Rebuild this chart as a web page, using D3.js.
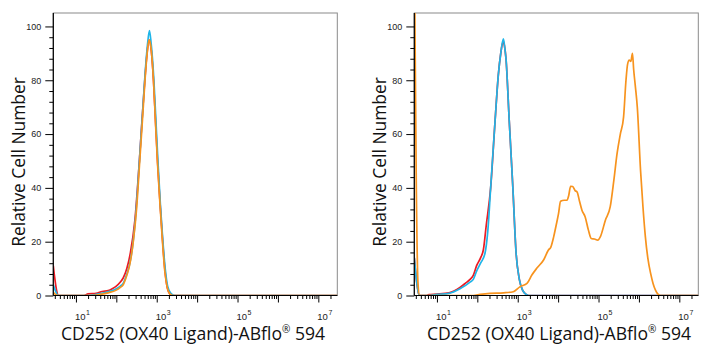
<!DOCTYPE html>
<html><head><meta charset="utf-8">
<script src="https://cdn.jsdelivr.net/npm/d3@7"></script>
<style>body{margin:0;background:#fff}svg{display:block}</style>
</head><body><svg id="c" width="713" height="350"></svg>
<script>
// ---- data (x given as log10 of intensity, y as relative cell number) ----
const leftRedLog = [0.44,0.48,0.52,0.56,1.2,1.3,1.5,1.65,1.8,1.9,2.0,2.1,2.17,2.26,2.35,2.46,2.57,2.64,2.7,2.76,2.81,2.85,2.92,2.97,3.02,3.08,3.12,3.2,3.26,3.33,3.4,7.47];
const leftRedY   = [11,6,2,0,0,0.6,0.8,1.5,1.8,2.5,3.5,5,6.5,10,16,28,50,66,79,90,95,93,80,65,50,35,26,10,3,0.5,0,0];
const leftCyanLog = [0.44,0.5,0.56,1.3,1.5,1.7,1.9,2.0,2.1,2.17,2.25,2.32,2.4,2.47,2.58,2.65,2.71,2.77,2.82,2.86,2.93,2.98,3.03,3.09,3.13,3.21,3.27,3.35,3.45,7.47];
const leftCyanY   = [4,1.5,0,0,0.4,1,1.8,2.5,3.5,4.5,7.5,11,18,28,52,68,82,93,98.5,94,80,65,50,34,25,10,3.5,0.8,0,0];
const leftOrangeLog = [0.44,0.5,0.56,1.4,1.6,1.8,2.0,2.1,2.17,2.26,2.34,2.42,2.5,2.58,2.65,2.71,2.77,2.81,2.85,2.92,2.97,3.02,3.08,3.12,3.2,3.26,3.33,3.4,7.47];
const leftOrangeY   = [1.2,0.3,0,0,0.4,1,2,3,4,7.5,12,20,32,50,66,80,91,95,93,80,64,49,34,25,9,3,0.5,0,0];

const rightRedLog = [0.44,0.5,0.56,0.75,0.8,1.0,1.3,1.57,1.7,1.82,1.9,1.98,2.08,2.15,2.22,2.33,2.44,2.52,2.58,2.64,2.67,2.71,2.79,2.88,2.96,3.04,3.12,3.2,3.27,7.47];
const rightRedY   = [14,5,0,0,0.3,0.5,1,3,4.5,6,7.5,11,14,17,26,40,65,82,90,94.5,93,88,65,40,15.7,6,2,0.5,0,0];
const rightCyanLog = [0.44,0.5,0.56,0.8,1.0,1.3,1.57,1.82,1.9,1.98,2.08,2.19,2.26,2.33,2.44,2.52,2.58,2.645,2.68,2.71,2.79,2.88,2.96,3.04,3.12,3.2,3.27,7.47];
const rightCyanY   = [14,5,0,0,0.4,0.8,2.5,5,6,9,12,15.7,24,40,65,82,90,95.4,92,88,65,40,15.7,6,2,0.5,0,0];
const rightOrangeLog = [0.44,0.49,0.53,0.57,1.9,2.07,2.31,2.65,2.89,3.06,3.23,3.35,3.47,3.64,3.76,3.82,3.89,3.95,4.01,4.06,4.15,4.22,4.26,4.31,4.36,4.42,4.47,4.53,4.59,4.67,4.75,4.82,4.9,4.98,5.05,5.17,5.29,5.38,5.46,5.54,5.62,5.68,5.72,5.76,5.8,5.84,5.87,5.91,5.96,6.04,6.1,6.16,6.22,6.29,6.35,6.41,6.47,6.53,7.47];
const rightOrangeY   = [130,40,5,0,0,0.4,0.8,1,1.4,3.3,4.5,7.6,10.1,13.2,16.9,18,21.8,26,30.4,35,35.4,35.4,37,40.6,40.5,39,38.5,35,31.7,29.2,24.3,21.2,21,20.6,22,28,33,42.9,52.8,60,66.3,80,86,87.5,87,90,84,78,70,46.6,33,21.8,14,8.2,4.5,2,0.5,0,0];

const yTickValues = [0,20,40,60,80,100];
const xLabelExponents = [1,3,5,7];
const xDomainLog = [0.44, 7.47];
const yDomain = [0, 105];
const xTitleMain = "CD252 (OX40 Ligand)-ABflo";
const xTitleMark = "\u00AE";
const xTitleTail = " 594";
const yTitle = "Relative Cell Number";
const seriesColors = {red:"#ec1c24", cyan:"#1fb5e8", orange:"#f7931e"};

// ---- layout ----
const plotW = 284, plotH = 282.5, plotTop = 13;
const panels = [
  {left:53.3, titleX:193, series:[
    {c:"red", lx:leftRedLog, y:leftRedY},
    {c:"cyan", lx:leftCyanLog, y:leftCyanY},
    {c:"orange", lx:leftOrangeLog, y:leftOrangeY}]},
  {left:414.3, titleX:559, series:[
    {c:"red", lx:rightRedLog, y:rightRedY},
    {c:"cyan", lx:rightCyanLog, y:rightCyanY},
    {c:"orange", lx:rightOrangeLog, y:rightOrangeY}]}
];

const svg = d3.select("#c");
const x = d3.scaleLog().domain(xDomainLog.map(e => Math.pow(10, e))).range([0, plotW]);
const y = d3.scaleLinear().domain(yDomain).range([plotH, 0]);

const allTicks = x.ticks();
const majorX = allTicks.filter(v => Math.abs(Math.log10(v) - Math.round(Math.log10(v))) < 1e-9);
const minorX = allTicks.filter(v => !majorX.includes(v));
const minorY = d3.range(0, 101, 4).filter(v => !yTickValues.includes(v));

panels.forEach((p, i) => {
  const g = svg.append("g").attr("transform", `translate(${p.left},${plotTop})`);
  const cid = "clip" + i;
  g.append("clipPath").attr("id", cid).append("rect")
    .attr("x", 0).attr("y", 0).attr("width", plotW).attr("height", plotH);

  g.append("rect").attr("x", 0).attr("y", 0).attr("width", plotW).attr("height", plotH)
    .attr("fill", "none").attr("stroke", "#8a8a8a").attr("stroke-width", 1);

  const line = d3.line().x(d => x(Math.pow(10, d[0]))).y(d => y(d[1])).curve(d3.curveMonotoneX);
  const cg = g.append("g").attr("clip-path", `url(#${cid})`);
  p.series.forEach(s => {
    const pts = s.lx.map((v, k) => [v, s.y[k]]);
    cg.append("path").attr("d", line(pts)).attr("fill", "none")
      .attr("stroke", seriesColors[s.c]).attr("stroke-width", 1.7)
      .attr("stroke-linejoin", "round");
  });

  const xa = g.append("g").attr("transform", `translate(0,${plotH})`);
  xa.call(d3.axisBottom(x).tickValues(majorX).tickSize(7).tickFormat(""));
  xa.append("g").call(d3.axisBottom(x).tickValues(minorX).tickSize(3.5).tickFormat(""));
  xa.selectAll(".domain").remove();
  xa.selectAll("line").attr("stroke", "#000").attr("stroke-width", 1);
  g.append("line").attr("x1", 0).attr("x2", plotW).attr("y1", plotH).attr("y2", plotH)
    .attr("stroke", "#000").attr("stroke-width", 1.2);

  xLabelExponents.forEach(e => {
    const t = g.append("text").attr("x", x(Math.pow(10, e)) - 1).attr("y", plotH + 24.5)
      .attr("font-family", "Liberation Sans, Arial, sans-serif").attr("font-size", 9.5).attr("fill", "#222");
    t.append("tspan").text("10");
    t.append("tspan").attr("font-size", 7).attr("dy", -5).attr("dx", 0.5).text(e);
  });

  const ya = g.append("g");
  ya.call(d3.axisLeft(y).tickValues(yTickValues).tickSize(8).tickPadding(4).tickFormat(d3.format("d")));
  ya.append("g").call(d3.axisLeft(y).tickValues(minorY).tickSize(4).tickFormat(""));
  ya.selectAll(".domain").remove();
  ya.selectAll("line").attr("stroke", "#000").attr("stroke-width", 1);
  ya.selectAll("text").attr("font-family", "Liberation Sans, Arial, sans-serif")
    .attr("font-size", 9).attr("fill", "#222");
  g.append("line").attr("x1", 0).attr("x2", 0).attr("y1", 0).attr("y2", plotH)
    .attr("stroke", "#000").attr("stroke-width", 1.2);

  const xt = svg.append("text").attr("x", p.titleX).attr("y", 340).attr("text-anchor", "middle")
    .attr("font-family", "Open Sans, sans-serif").attr("font-size", 17.6).attr("fill", "#111");
  xt.append("tspan").text(xTitleMain);
  xt.append("tspan").attr("font-size", 10).attr("dy", -7).text(xTitleMark);
  xt.append("tspan").attr("dy", 7).text(xTitleTail);
  svg.append("text").attr("transform", `translate(${p.left - 28.5},162) rotate(-90)`)
    .attr("text-anchor", "middle")
    .attr("font-family", "Open Sans, sans-serif").attr("font-size", 17.4).attr("fill", "#111")
    .text(yTitle);
});
</script></body></html>
